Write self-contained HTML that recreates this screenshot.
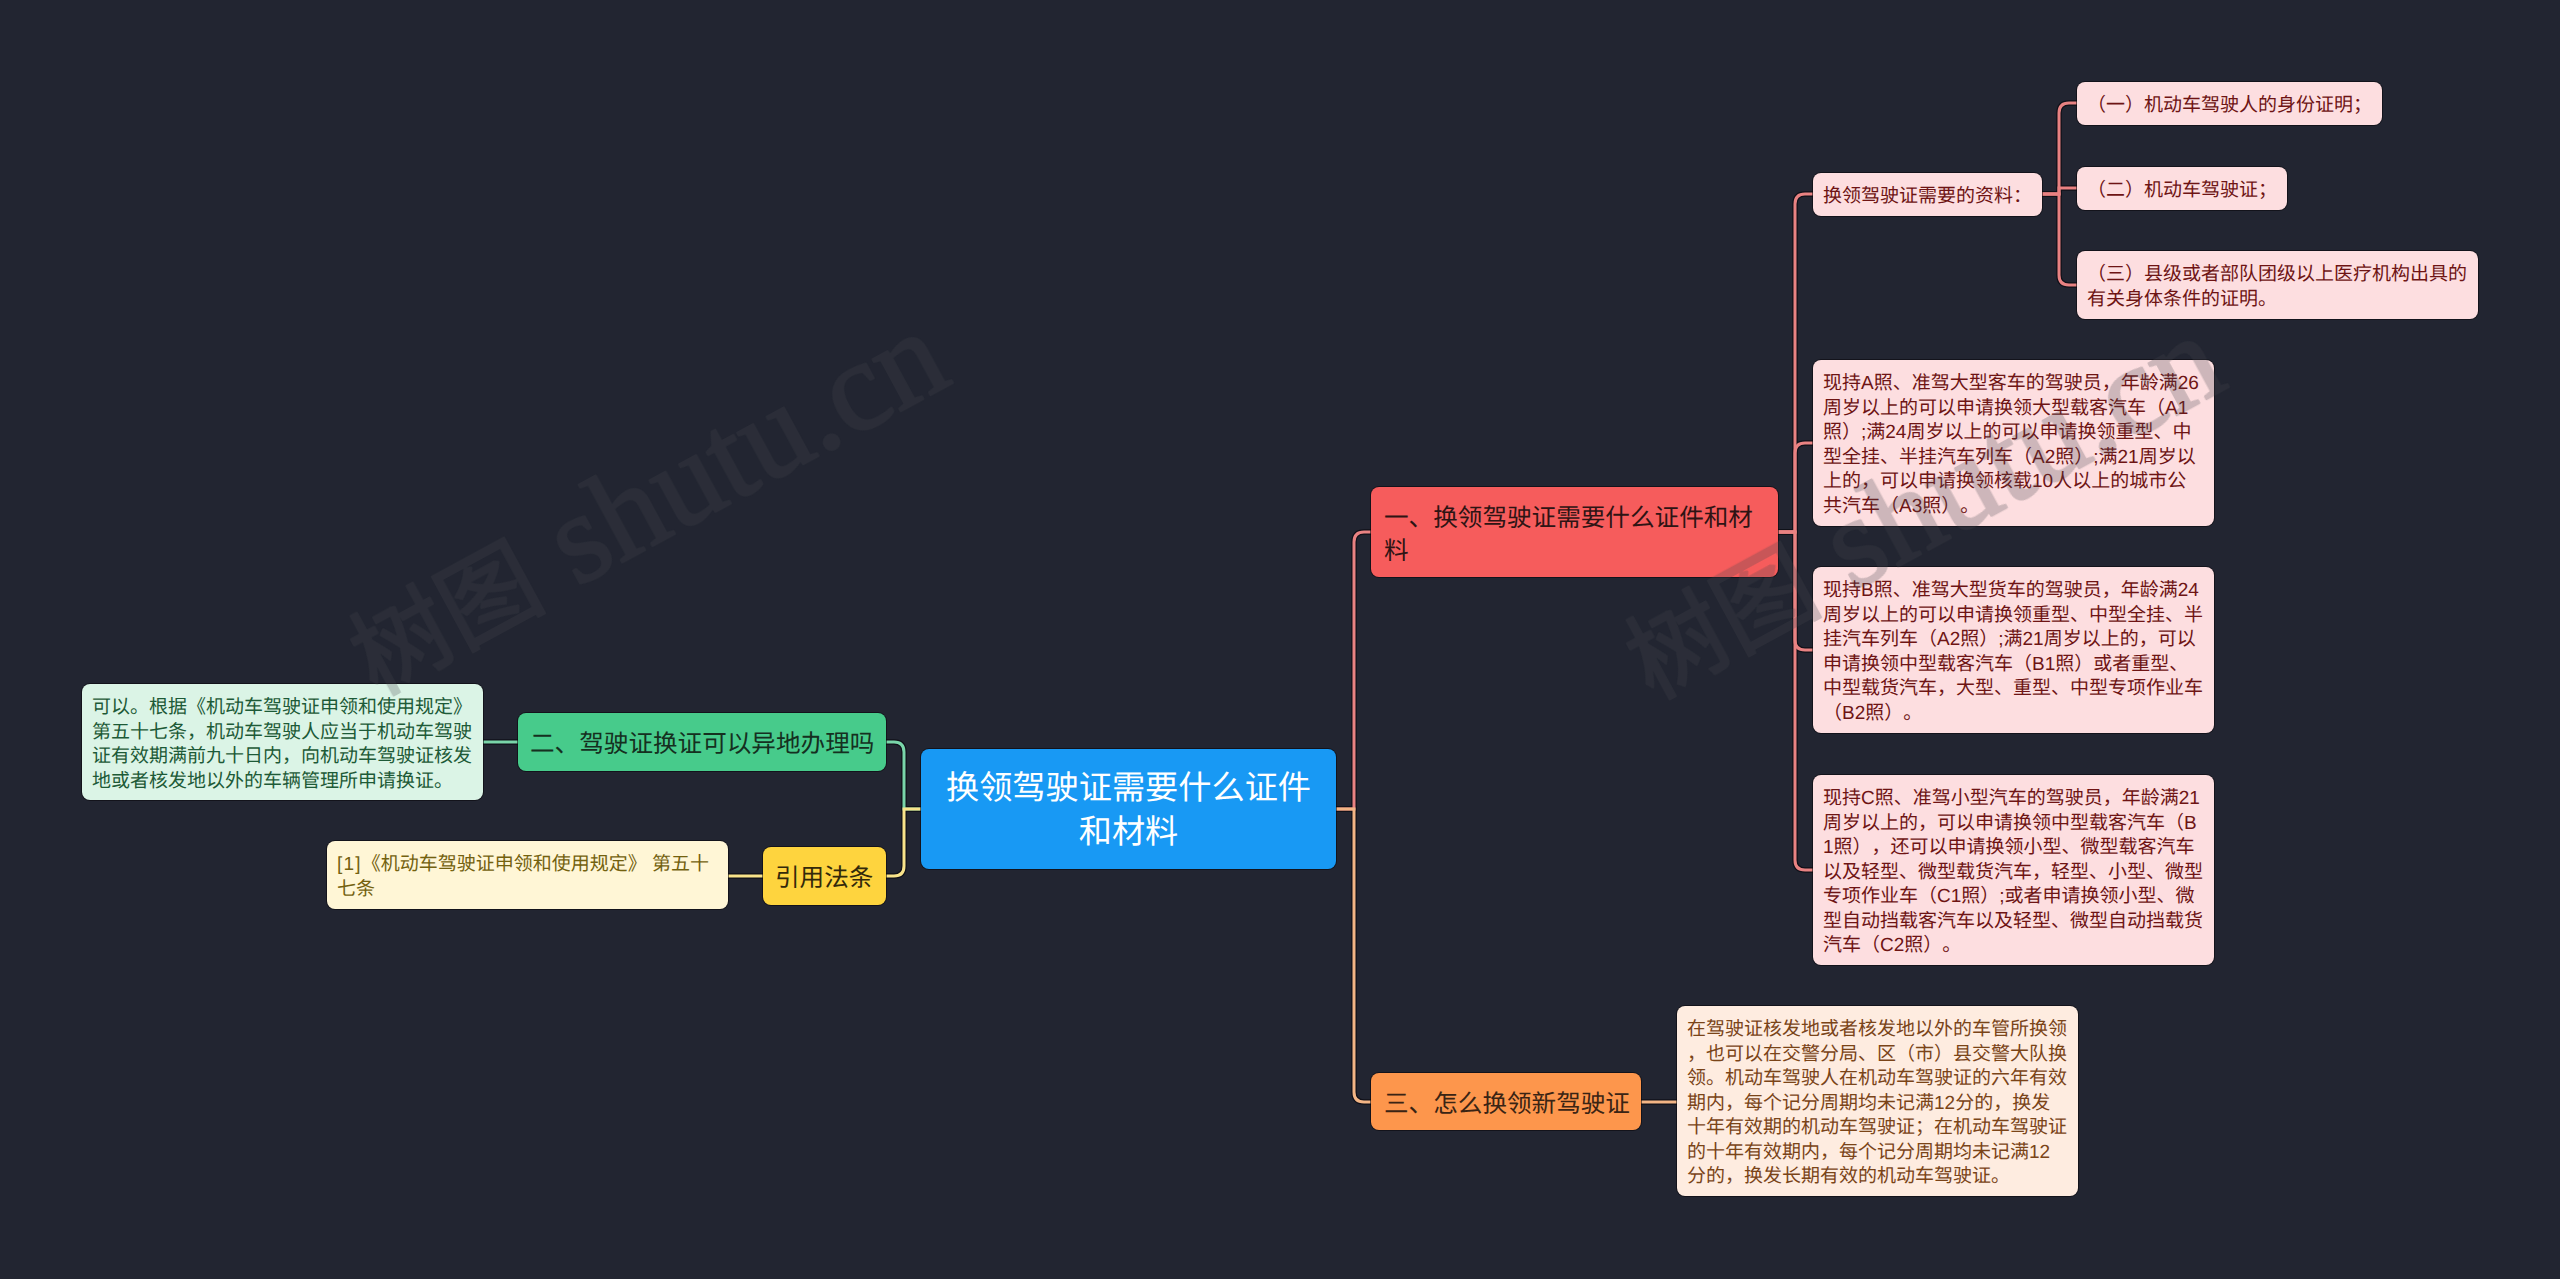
<!DOCTYPE html>
<html lang="zh-CN"><head><meta charset="utf-8">
<style>
html,body{margin:0;padding:0;width:2560px;height:1279px;overflow:hidden;background:#222531;}
body{position:relative;font-family:"Liberation Sans",sans-serif;text-rendering:geometricPrecision;text-spacing-trim:space-all;}
.n{position:absolute;box-sizing:border-box;border-radius:8px;white-space:nowrap;box-shadow:0 0 0 1px rgba(8,6,10,0.55);}
.t{position:absolute;left:0;top:0;white-space:nowrap;}
svg{position:absolute;left:0;top:0;}
.leaf{font-size:19px;line-height:24.5px;}
.pk{background:#fddee0;color:#6e1414;}
.br{font-size:24.6px;line-height:33px;}
</style></head><body>
<svg width="2560" height="1279" viewBox="0 0 2560 1279" fill="none" stroke-width="3">
<g stroke-width="5.5" opacity="0.6">
  
  <path d="M1336 809 H1354 V542 Q1354 532 1364 532 H1372" stroke="#05040a"/>
  
  <path d="M1336 809 H1354 V1092 Q1354 1102 1364 1102 H1372" stroke="#05040a"/>
  
  <path d="M921 809 H904 V752 Q904 742 894 742 H885" stroke="#05040a"/>
  
  <path d="M921 809 H904 V866 Q904 876 894 876 H885" stroke="#05040a"/>
  
  <path d="M1778 532 H1795 V204 Q1795 194 1805 194 H1814" stroke="#05040a"/>
  <path d="M1778 532 H1795 V453 Q1795 443 1805 443 H1814" stroke="#05040a"/>
  <path d="M1778 532 H1795 V640 Q1795 650 1805 650 H1814" stroke="#05040a"/>
  <path d="M1778 532 H1795 V860 Q1795 870 1805 870 H1814" stroke="#05040a"/>
  
  <path d="M2042 194 H2059 V113 Q2059 103 2069 103 H2078" stroke="#05040a"/>
  <path d="M2042 194 H2059 V188 H2078" stroke="#05040a"/>
  <path d="M2042 194 H2059 V275 Q2059 285 2069 285 H2078" stroke="#05040a"/>
  
  <path d="M1641 1102 H1678" stroke="#05040a"/>
  <path d="M518 742 H482" stroke="#05040a"/>
  <path d="M763 876 H727" stroke="#05040a"/>
</g>

  <!-- root right -> red -->
  <path d="M1336 809 H1354 V542 Q1354 532 1364 532 H1372" stroke="#e98282"/>
  <!-- root right -> orange -->
  <path d="M1336 809 H1354 V1092 Q1354 1102 1364 1102 H1372" stroke="#f3b585"/>
  <!-- root left -> green -->
  <path d="M921 809 H904 V752 Q904 742 894 742 H885" stroke="#79d5a9"/>
  <!-- root left -> yellow -->
  <path d="M921 809 H904 V866 Q904 876 894 876 H885" stroke="#f8e38a"/>
  <!-- red -> leaves -->
  <path d="M1778 532 H1795 V204 Q1795 194 1805 194 H1814" stroke="#e98282"/>
  <path d="M1778 532 H1795 V453 Q1795 443 1805 443 H1814" stroke="#e98282"/>
  <path d="M1778 532 H1795 V640 Q1795 650 1805 650 H1814" stroke="#e98282"/>
  <path d="M1778 532 H1795 V860 Q1795 870 1805 870 H1814" stroke="#e98282"/>
  <!-- ziliao -> sub -->
  <path d="M2042 194 H2059 V113 Q2059 103 2069 103 H2078" stroke="#e98282"/>
  <path d="M2042 194 H2059 V188 H2078" stroke="#e98282"/>
  <path d="M2042 194 H2059 V275 Q2059 285 2069 285 H2078" stroke="#e98282"/>
  <!-- straight -->
  <path d="M1641 1102 H1678" stroke="#f3b585"/>
  <path d="M518 742 H482" stroke="#79d5a9"/>
  <path d="M763 876 H727" stroke="#f8e38a"/>
</svg>

<!-- root -->
<div class="n" style="left:921px;top:749px;width:415px;height:120px;background:#1899f4;color:#fff;font-size:33.2px;line-height:44px;">
  <div class="t" style="left:0;width:415px;top:17.5px;text-align:center;">换领驾驶证需要什么证件<br>和材料</div>
</div>

<!-- red branch -->
<div class="n br" style="left:1371px;top:487px;width:407px;height:90px;background:#f65c5c;color:#2e1414;">
  <div class="t" style="left:13px;top:15px;">一、换领驾驶证需要什么证件和材<br>料</div>
</div>
<!-- orange branch -->
<div class="n br" style="left:1371px;top:1073px;width:270px;height:57px;background:#fd964c;color:#3a2414;">
  <div class="t" style="left:13px;top:15px;">三、怎么换领新驾驶证</div>
</div>
<!-- green branch -->
<div class="n br" style="left:518px;top:713px;width:368px;height:58px;background:#47cb8b;color:#15301f;">
  <div class="t" style="left:12px;top:15px;">二、驾驶证换证可以异地办理吗</div>
</div>
<!-- yellow branch -->
<div class="n br" style="left:763px;top:847px;width:123px;height:58px;background:#fed43e;color:#33290a;">
  <div class="t" style="left:12px;top:15px;">引用法条</div>
</div>

<!-- pink leaves -->
<div class="n leaf pk" style="left:1813px;top:173px;width:229px;height:43px;">
  <div class="t" style="left:10px;top:12px;">换领驾驶证需要的资料：</div>
</div>
<div class="n leaf pk" style="left:2077px;top:82px;width:305px;height:43px;">
  <div class="t" style="left:10px;top:12px;">（一）机动车驾驶人的身份证明；</div>
</div>
<div class="n leaf pk" style="left:2077px;top:167px;width:210px;height:43px;">
  <div class="t" style="left:10px;top:12px;">（二）机动车驾驶证；</div>
</div>
<div class="n leaf pk" style="left:2077px;top:251px;width:401px;height:68px;">
  <div class="t" style="left:10px;top:12px;">（三）县级或者部队团级以上医疗机构出具的<br>有关身体条件的证明。</div>
</div>
<div class="n leaf pk" style="left:1813px;top:360px;width:401px;height:166px;">
  <div class="t" style="left:10px;top:12px;">现持A照、准驾大型客车的驾驶员，年龄满26<br>周岁以上的可以申请换领大型载客汽车（A1<br>照）;满24周岁以上的可以申请换领重型、中<br>型全挂、半挂汽车列车（A2照）;满21周岁以<br>上的，可以申请换领核载10人以上的城市公<br>共汽车（A3照）。</div>
</div>
<div class="n leaf pk" style="left:1813px;top:567px;width:401px;height:166px;">
  <div class="t" style="left:10px;top:12px;">现持B照、准驾大型货车的驾驶员，年龄满24<br>周岁以上的可以申请换领重型、中型全挂、半<br>挂汽车列车（A2照）;满21周岁以上的，可以<br>申请换领中型载客汽车（B1照）或者重型、<br>中型载货汽车，大型、重型、中型专项作业车<br>（B2照）。</div>
</div>
<div class="n leaf pk" style="left:1813px;top:775px;width:401px;height:190px;">
  <div class="t" style="left:10px;top:12px;">现持C照、准驾小型汽车的驾驶员，年龄满21<br>周岁以上的，可以申请换领中型载客汽车（B<br>1照），还可以申请换领小型、微型载客汽车<br>以及轻型、微型载货汽车，轻型、小型、微型<br>专项作业车（C1照）;或者申请换领小型、微<br>型自动挡载客汽车以及轻型、微型自动挡载货<br>汽车（C2照）。</div>
</div>

<!-- orange leaf -->
<div class="n leaf" style="left:1677px;top:1006px;width:401px;height:190px;background:#feece0;color:#7a4418;">
  <div class="t" style="left:10px;top:12px;">在驾驶证核发地或者核发地以外的车管所换领<br>，也可以在交警分局、区（市）县交警大队换<br>领。机动车驾驶人在机动车驾驶证的六年有效<br>期内，每个记分周期均未记满12分的，换发<br>十年有效期的机动车驾驶证；在机动车驾驶证<br>的十年有效期内，每个记分周期均未记满12<br>分的，换发长期有效的机动车驾驶证。</div>
</div>

<!-- green leaf -->
<div class="n leaf" style="left:82px;top:684px;width:401px;height:116px;background:#dbf4e6;color:#1d5a37;">
  <div class="t" style="left:10px;top:12px;">可以。根据《机动车驾驶证申领和使用规定》<br>第五十七条，机动车驾驶人应当于机动车驾驶<br>证有效期满前九十日内，向机动车驾驶证核发<br>地或者核发地以外的车辆管理所申请换证。</div>
</div>

<!-- yellow leaf -->
<div class="n leaf" style="left:327px;top:841px;width:401px;height:68px;background:#fff6d6;color:#73610f;">
  <div class="t" style="left:10px;top:12px;"><span style="letter-spacing:1.2px">[1]</span>《机动车驾驶证申领和使用规定》 第五十<br>七条</div>
</div>


<svg width="2560" height="1279" viewBox="0 0 2560 1279" style="position:absolute;left:0;top:0;pointer-events:none">
  <g opacity="0.26" fill="#46484e" stroke="#46484e" stroke-width="2.5" stroke-linejoin="round">
    <text x="376" y="696" transform="rotate(-28.5 376 696)" font-family="'Liberation Serif',serif"><tspan font-size="98">树图</tspan><tspan font-size="128"> shutu.cn</tspan></text>
    <text x="1652" y="700" transform="rotate(-28.5 1652 700)" font-family="'Liberation Serif',serif"><tspan font-size="98">树图</tspan><tspan font-size="128"> shutu.cn</tspan></text>
  </g>
</svg>
</body></html>
